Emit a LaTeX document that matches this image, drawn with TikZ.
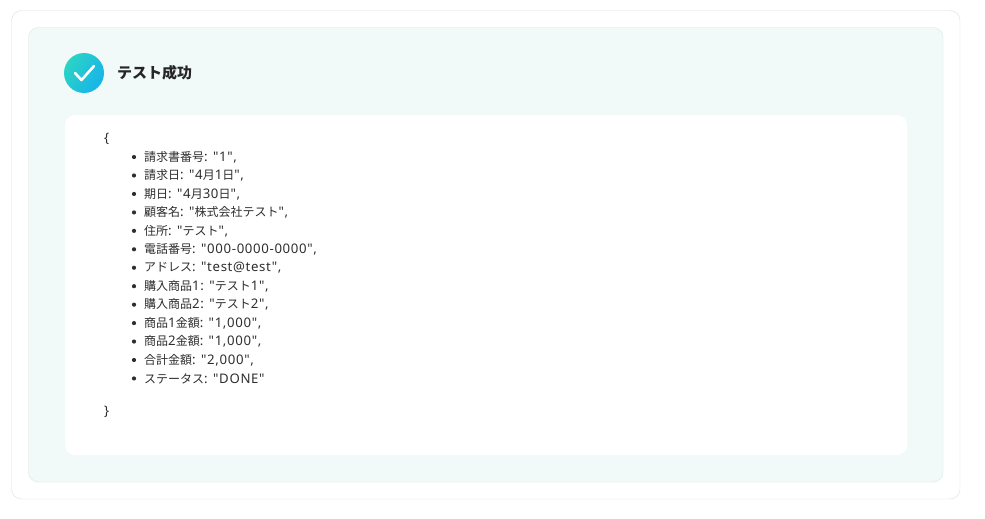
\documentclass[tikz,border=0pt]{standalone}
\usepackage{fontspec}
\setmainfont{Noto Sans}[Ligatures=TeXOff, Scale=1.1, LetterSpace=5]
\newfontfamily\jpfont{Noto Sans CJK JP}
\usepackage{xcolor}
\definecolor{frameline}{HTML}{DEDEE2}
\definecolor{panelfill}{HTML}{F2FAF9}
\definecolor{panelline}{HTML}{DDE5E4}
\definecolor{textgray}{HTML}{2E2E2E}
\definecolor{okteal}{HTML}{2BD4C4}
\definecolor{okblue}{HTML}{16B4EA}

% Japanese characters switch to the CJK face
\XeTeXinterchartokenstate=1
\newXeTeXintercharclass\jpclass
\newcount\jpcode
\jpcode="3000 \loop \XeTeXcharclass\jpcode=\jpclass \advance\jpcode 1 \ifnum\jpcode<"3100 \repeat
\jpcode="4E00 \loop \XeTeXcharclass\jpcode=\jpclass \advance\jpcode 1 \ifnum\jpcode<"A000 \repeat
\XeTeXinterchartoks 0 \jpclass = {\begingroup\jpfont}
\XeTeXinterchartoks 4095 \jpclass = {\begingroup\jpfont}
\XeTeXinterchartoks \jpclass 0 = {\endgroup}
\XeTeXinterchartoks \jpclass 4095 = {\endgroup}

\begin{document}
\begin{tikzpicture}[x=1pt, y=-1pt,
  itemtext/.style={anchor=west, inner sep=0pt, text=textgray, font=\fontsize{12}{14}\selectfont}]
  \useasboundingbox (0,0) rectangle (985,519);

  % Draw the outer frame and the mint panel
  \draw[frameline, fill=white, rounded corners=10pt] (11.5,10.5) rectangle (960,499);
  \draw[panelline, fill=panelfill, rounded corners=10pt] (28.5,27.5) rectangle (943,482);
  \fill[white, rounded corners=10pt] (65,115) rectangle (907,455);

  % Check badge and title
  \shade[left color=okteal, right color=okblue, shading angle=60] (84,73) circle (20);
  \draw[white, line width=2.6pt, line cap=round, line join=round]
    (75,73) -- (81.5,80) -- (94,66);
  \node[anchor=west, inner sep=0pt, text=black!85, font=\fontsize{15}{17}\bfseries] (title) at (117,73) {テスト成功};

  % The record
  \node[itemtext] (open) at (104,139) {\{};
  \foreach \i/\txt in {1/{請求書番号: "1",}, 2/{請求日: "4月1日",}, 3/{期日: "4月30日",},
      4/{顧客名: "株式会社テスト",}, 5/{住所: "テスト",}, 6/{電話番号: "000-0000-0000",},
      7/{アドレス: "test@test",}, 8/{購入商品1: "テスト1",}, 9/{購入商品2: "テスト2",},
      10/{商品1金額: "1,000",}, 11/{商品2金額: "1,000",}, 12/{合計金額: "2,000",},
      13/{ステータス: "DONE"}} {
    \fill[textgray] (134,138.6+18.45*\i) circle (2.1);
    \node[itemtext] (item\i) at (144,138.6+18.45*\i) {\txt};
  }
  \node[itemtext] (close) at (104,412) {\}};
\end{tikzpicture}
\end{document}
